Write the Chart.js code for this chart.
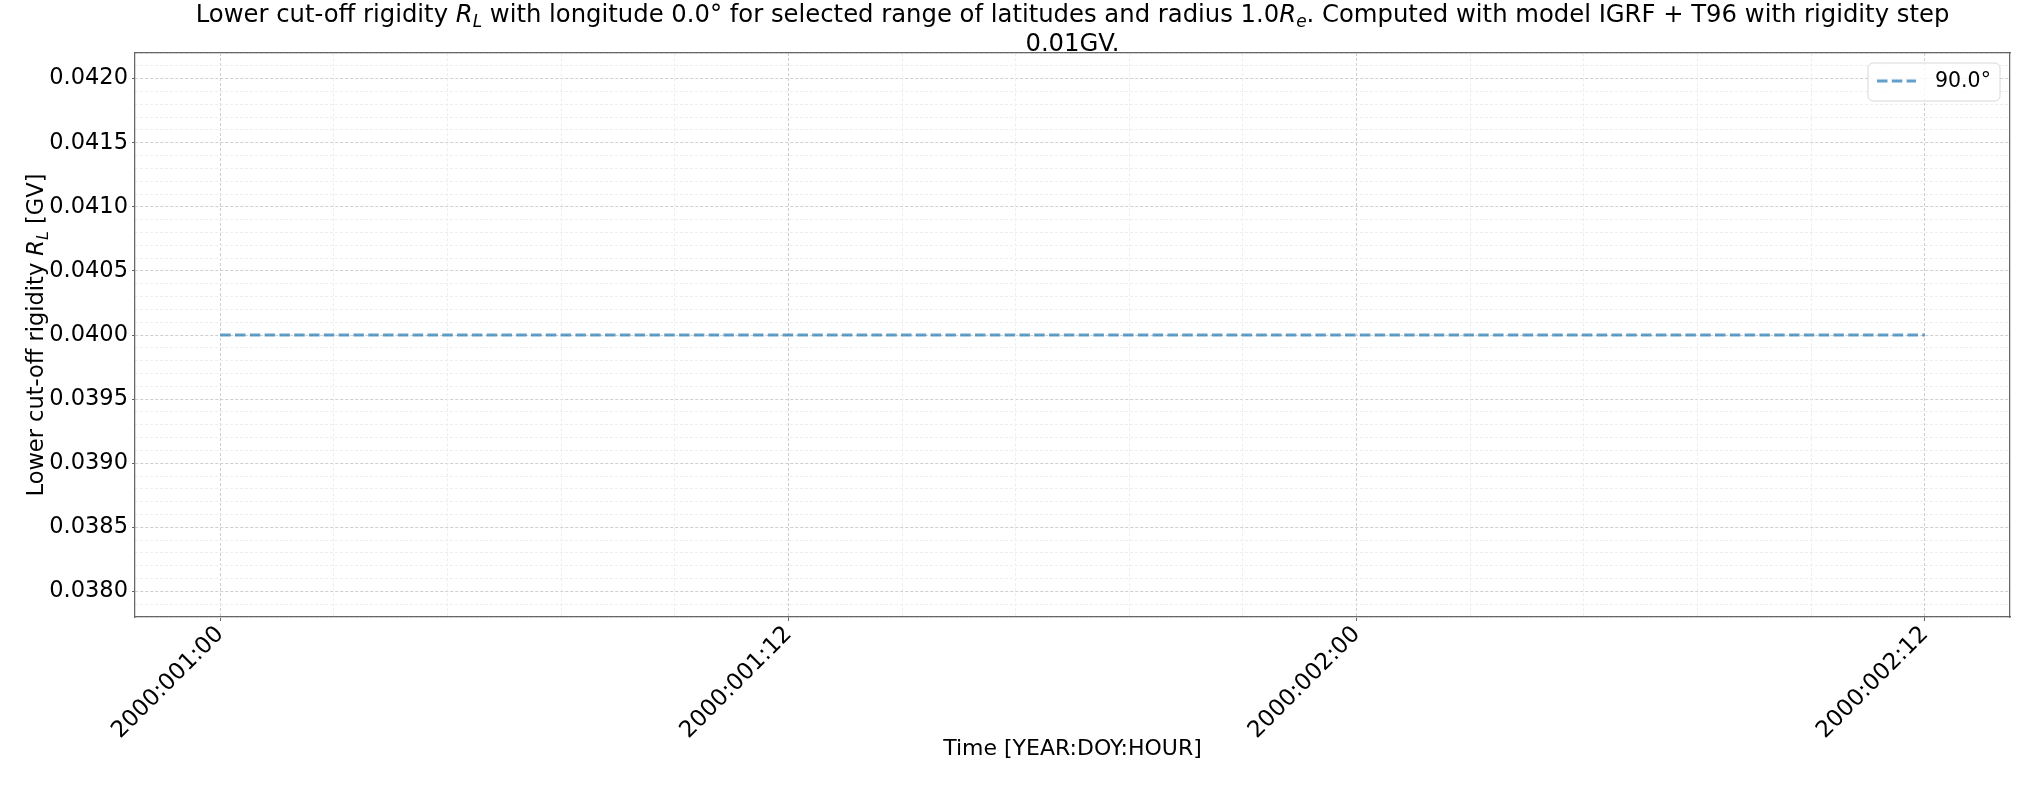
<!DOCTYPE html>
<html>
<head>
<meta charset="utf-8">
<script src="https://cdn.jsdelivr.net/npm/chart.js@4.4.0/dist/chart.umd.min.js"></script>
<style>
  html, body { margin: 0; padding: 0; background: #fff; }
</style>
</head>
<body>
<canvas id="rigidityChart" width="2035" height="785"></canvas>
<script>
// hours since 2000:001:00
const hours = [0,1,2,3,4,5,6,7,8,9,10,11,12,13,14,15,16,17,18,19,20,21,22,23,24,25,26,27,28,29,30,31,32,33,34,35,36];
const rigidityLat90 = [0.04,0.04,0.04,0.04,0.04,0.04,0.04,0.04,0.04,0.04,0.04,0.04,0.04,0.04,0.04,0.04,0.04,0.04,0.04,0.04,0.04,0.04,0.04,0.04,0.04,0.04,0.04,0.04,0.04,0.04,0.04,0.04,0.04,0.04,0.04,0.04,0.04];
const seriesLabel = '90.0°';

const xTickHours = [0, 12, 24, 36];
const xTickLabels = ['2000:001:00', '2000:001:12', '2000:002:00', '2000:002:12'];
const yTicks = [0.0380, 0.0385, 0.0390, 0.0395, 0.0400, 0.0405, 0.0410, 0.0415, 0.0420];
const xRange = [-1.8, 37.8];
const yRange = [0.0378, 0.0422];

const titleLine1 = [
  ['Lower cut-off rigidity ', 'n'], ['R', 'i'], ['L', 's'],
  [' with longitude 0.0° for selected range of latitudes and radius 1.0', 'n'], ['R', 'i'], ['e', 's'],
  ['. Computed with model IGRF + T96 with rigidity step', 'n']
];
const titleLine2 = [['0.01GV.', 'n']];
const yLabel = [['Lower cut-off rigidity ', 'n'], ['R', 'i'], ['L', 's'], [' [GV]', 'n']];
const xLabel = 'Time [YEAR:DOY:HOUR]';

const FONT = '"DejaVu Sans", sans-serif';
const lineColor = 'rgba(31,119,180,0.7)';
const dash = [10.5, 4.3];

function drawRich(ctx, parts, cx, baseY, size) {
  const fonts = {
    n: size + 'px ' + FONT,
    i: 'italic ' + size + 'px ' + FONT,
    s: 'italic ' + Math.round(size * 0.7) + 'px ' + FONT
  };
  let w = 0;
  parts.forEach(p => { ctx.font = fonts[p[1]]; w += ctx.measureText(p[0]).width; });
  let x = cx - w / 2;
  ctx.textAlign = 'left';
  ctx.textBaseline = 'alphabetic';
  ctx.fillStyle = '#000';
  parts.forEach(p => {
    ctx.font = fonts[p[1]];
    const dy = p[1] === 's' ? size * 0.22 : 0;
    ctx.fillText(p[0], x, baseY + dy);
    x += ctx.measureText(p[0]).width;
  });
}

const decorations = {
  id: 'decorations',
  afterDraw(chart) {
    const ctx = chart.ctx;
    const ca = chart.chartArea;
    const cx = (ca.left + ca.right) / 2;
    ctx.save();
    drawRich(ctx, titleLine1, cx, 22, 24.3);
    drawRich(ctx, titleLine2, cx, 51, 24.3);

    ctx.translate(35, (ca.top + ca.bottom) / 2);
    ctx.rotate(-Math.PI / 2);
    drawRich(ctx, yLabel, 0, 8, 22.5);
    ctx.restore();

    // legend
    const ds = chart.data.datasets[0];
    ctx.save();
    const bx = ca.right - 142, by = ca.top + 10, bw = 132, bh = 38;
    ctx.beginPath();
    ctx.roundRect(bx, by, bw, bh, 5);
    ctx.fillStyle = 'rgba(255,255,255,0.8)';
    ctx.fill();
    ctx.strokeStyle = '#d8d8d8';
    ctx.lineWidth = 1;
    ctx.stroke();
    ctx.beginPath();
    ctx.setLineDash(ds.borderDash);
    ctx.strokeStyle = ds.borderColor;
    ctx.lineWidth = ds.borderWidth;
    ctx.moveTo(bx + 9, by + 18);
    ctx.lineTo(bx + 48, by + 18);
    ctx.stroke();
    ctx.setLineDash([]);
    ctx.fillStyle = '#000';
    ctx.font = '20.5px ' + FONT;
    ctx.textAlign = 'left';
    ctx.textBaseline = 'middle';
    ctx.fillText(ds.label, bx + 67, by + 19);
    ctx.restore();
  }
};

const points = hours.map((h, i) => ({ x: h, y: rigidityLat90[i] }));

new Chart(document.getElementById('rigidityChart'), {
  type: 'line',
  data: {
    datasets: [{
      label: seriesLabel,
      data: points,
      borderColor: lineColor,
      backgroundColor: lineColor,
      borderWidth: 3,
      borderDash: dash,
      pointRadius: 0,
      tension: 0
    }]
  },
  options: {
    responsive: false,
    animation: false,
    devicePixelRatio: 1,
    layout: { padding: { left: 0, top: 53, right: 25, bottom: 0 } },
    plugins: {
      legend: { display: false },
      tooltip: { enabled: false }
    },
    scales: {
      x: {
        type: 'linear',
        position: 'bottom',
        min: xRange[0],
        max: xRange[1],
        afterBuildTicks: s => { s.ticks = xTickHours.map(v => ({ value: v })); },
        afterFit: s => { s.height = 168; },
        ticks: {
          autoSkip: false,
          maxRotation: 45,
          minRotation: 45,
          padding: 0,
          color: '#000',
          font: { family: FONT, size: 23 },
          callback: v => xTickLabels[xTickHours.indexOf(v)]
        },
        grid: { color: '#cfcfcf', lineWidth: 1, tickLength: 4, tickColor: '#666' },
        border: { display: true, color: '#666', width: 1.25, dash: [3, 2] },
        title: {
          display: true,
          text: xLabel,
          color: '#000',
          font: { family: FONT, size: 22 },
          padding: { top: 0, bottom: 23 }
        }
      },
      y: {
        type: 'linear',
        position: 'left',
        min: yRange[0],
        max: yRange[1],
        afterBuildTicks: s => { s.ticks = yTicks.map(v => ({ value: v })); },
        afterFit: s => { s.width = 135; },
        ticks: {
          padding: 4,
          color: '#000',
          font: { family: FONT, size: 22.5 },
          callback: v => v.toFixed(4)
        },
        grid: { color: '#cfcfcf', lineWidth: 1, tickLength: 3, tickColor: '#666' },
        border: { display: true, color: '#666', width: 1.25, dash: [3, 2] }
      },
      xMinor: {
        type: 'linear',
        position: 'top',
        min: xRange[0],
        max: xRange[1],
        afterBuildTicks: s => {
          const t = [];
          for (let k = 1; k * 2.4 <= xRange[1]; k++) if (k % 5) t.push({ value: k * 2.4 });
          s.ticks = t;
        },
        afterFit: s => { s.height = 0; },
        ticks: { display: false },
        grid: { color: '#eeeeee', lineWidth: 1, drawTicks: false },
        border: { display: true, color: '#666', width: 1.25, dash: [3, 2] }
      },
      yMinor: {
        type: 'linear',
        position: 'right',
        min: yRange[0],
        max: yRange[1],
        afterBuildTicks: s => {
          const t = [];
          for (let k = 378; k <= 422; k++) if (k % 5) t.push({ value: k / 10000 });
          s.ticks = t;
        },
        afterFit: s => { s.width = 0; },
        ticks: { display: false },
        grid: { color: '#eeeeee', lineWidth: 1, drawTicks: false },
        border: { display: true, color: '#666', width: 1.25, dash: [3, 2] }
      }
    }
  },
  plugins: [decorations]
});
</script>
</body>
</html>
